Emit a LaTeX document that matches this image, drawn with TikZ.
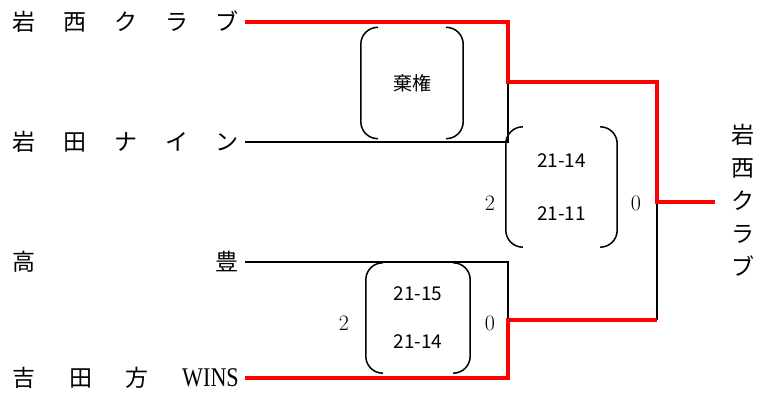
\documentclass[tikz,border=0pt]{standalone}
\usepackage{fontspec}
\newfontfamily\jp{Noto Sans CJK JP}
\newfontfamily\wins[FakeStretch=0.82]{Liberation Serif}
\definecolor{winred}{RGB}{255,0,0}
\begin{document}
\begin{tikzpicture}[x=1pt,y=-1pt,
  team/.style={anchor=east, inner xsep=6pt, inner ysep=0pt, font=\jp\fontsize{23}{26}\selectfont},
  loseline/.style={line width=1.6pt, black},
  winline/.style={line width=4.5pt, winred},
  setcount/.style={inner sep=0pt, font=\fontsize{22}{24}\selectfont},
  result/.style={inner sep=0pt, align=center, font=\jp\fontsize{19}{#1}\selectfont},
  paren/.style={line width=1.5pt, rounded corners=17pt}
]
\useasboundingbox (0,0) rectangle (760,393);

% team names
\node[team] (t1) at (245,22) {\makebox[226pt]{岩\hfill 西\hfill ク\hfill ラ\hfill ブ}};
\node[team] (t2) at (245,142) {\makebox[226pt]{岩\hfill 田\hfill ナ\hfill イ\hfill ン}};
\node[team] (t3) at (245,262) {\makebox[226pt]{高\hfill 豊}};
\node[team] (t4) at (245,378) {\makebox[226pt]{吉\hfill 田\hfill 方\hfill{\wins\fontsize{27}{28}\selectfont WINS}}};
\node[inner sep=0pt, align=center, font=\jp\fontsize{23}{33}\selectfont] (w) at (743,200) {岩\\西\\ク\\ラ\\ブ};

% junctions
\coordinate (m1) at (508,82);
\coordinate (m2) at (508,320);
\coordinate (m1r) at (657,82);
\coordinate (m2r) at (657,320);
\coordinate (f) at (657,202);
\coordinate (wend) at (715,202);

% result boxes
\node[result=53, minimum width=102pt, minimum height=111pt] (b1) at (412,83) {棄権};
\node[result=53, minimum width=111pt, minimum height=120pt] (b2) at (561.5,187) {21-14\\21-11};
\node[result=48, minimum width=104pt, minimum height=110pt] (b3) at (418,318) {21-15\\21-14};
\foreach \b in {b1,b2,b3}{
  \draw[paren] ([xshift=17pt]\b.north west) -- (\b.north west) -- (\b.south west) -- ([xshift=17pt]\b.south west);
  \draw[paren] ([xshift=-17pt]\b.north east) -- (\b.north east) -- (\b.south east) -- ([xshift=-17pt]\b.south east);
}

% set counts
\node[setcount] (c2a) at (490,203) {2};
\node[setcount] (c2b) at (636,203) {0};
\node[setcount] (c3a) at (344,323) {2};
\node[setcount] (c3b) at (490,323) {0};

% lines
\draw[loseline] (t2.east) -| (m1);
\draw[loseline] (t3.east) -| (m2);
\draw[loseline] (m2r) -- (f);
\draw[winline] (t1.east) -| (m1) -- (m1r) -- (f) -- (wend);
\draw[winline] (t4.east) -| (m2) -- (m2r);
\end{tikzpicture}
\end{document}
